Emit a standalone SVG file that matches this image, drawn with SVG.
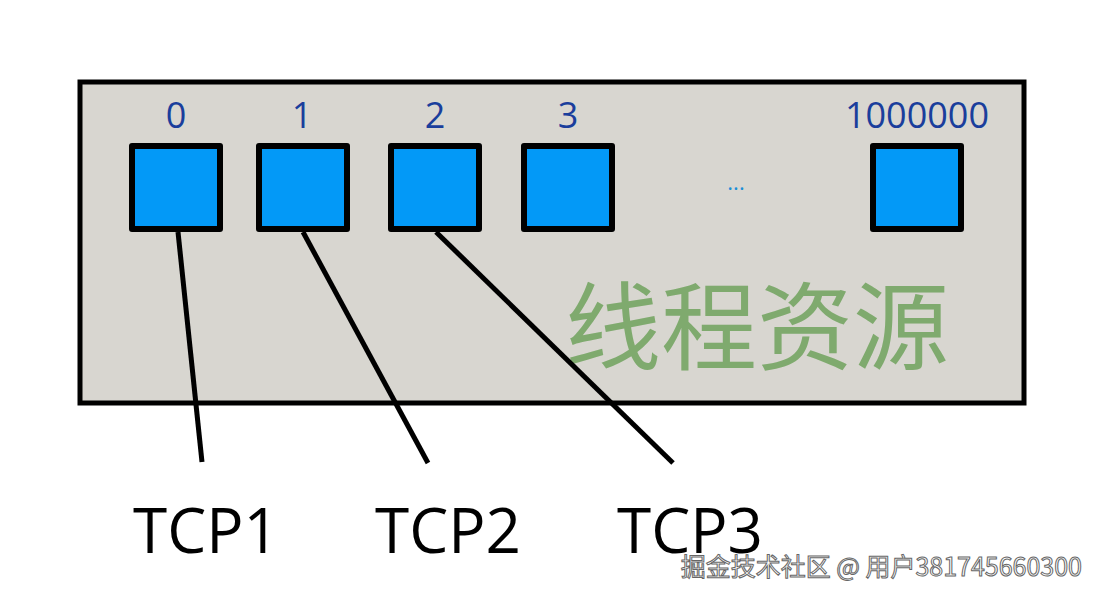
<svg xmlns="http://www.w3.org/2000/svg" width="1100" height="600" viewBox="0 0 1100 600">
<style>
.box{fill:#0399f7;stroke:#000;stroke-width:6;stroke-linejoin:round}
.num{font-family:"Open Sans","Noto Sans",sans-serif;font-size:36px;fill:#1a3e9c;text-anchor:middle}
.tcp{font-family:"Open Sans","Noto Sans",sans-serif;font-size:62px;fill:#000}
.ln{stroke:#000;stroke-width:5;fill:none}
</style>
<rect width="1100" height="600" fill="#fff"/>
<g id="frame"><rect x="80" y="82" width="944" height="321" fill="#d8d6d0" stroke="#000" stroke-width="5"/></g>
<g id="n0"><text class="num" x="176" y="128">0</text><rect class="box" x="132" y="146" width="88" height="83"/></g>
<g id="n1"><text class="num" x="302" y="128">1</text><rect class="box" x="259" y="146" width="88" height="83"/></g>
<g id="n2"><text class="num" x="435" y="128">2</text><rect class="box" x="391" y="146" width="88" height="83"/></g>
<g id="n3"><text class="num" x="568" y="128">3</text><rect class="box" x="524" y="146" width="88" height="83"/></g>
<g id="dots"><text x="736" y="190" font-family="Open Sans,sans-serif" font-size="22" fill="#1a8fd8" text-anchor="middle">...</text></g>
<g id="nN"><text class="num" x="917" y="128">1000000</text><rect class="box" x="873" y="146" width="88" height="83"/></g>
<g id="label"><text x="757" y="362" font-family="Noto Sans CJK SC,sans-serif" font-size="96" fill="#7faa6e" text-anchor="middle">线程资源</text></g>
<g id="connectors">
<line class="ln" x1="178" y1="232" x2="202" y2="462"/>
<line class="ln" x1="303" y1="232" x2="428" y2="463"/>
<line class="ln" x1="436" y1="232" x2="673" y2="463"/>
</g>
<g id="t1"><text class="tcp" x="133" y="553">TCP1</text></g>
<g id="t2"><text class="tcp" x="375" y="553">TCP2</text></g>
<g id="t3"><text class="tcp" x="617" y="553">TCP3</text></g>
<text x="1082" y="576" font-family="Noto Sans CJK SC,sans-serif" font-size="25" fill="#fff" stroke="#666" stroke-width="1" text-anchor="end">掘金技术社区 @ 用户381745660300</text>
</svg>
